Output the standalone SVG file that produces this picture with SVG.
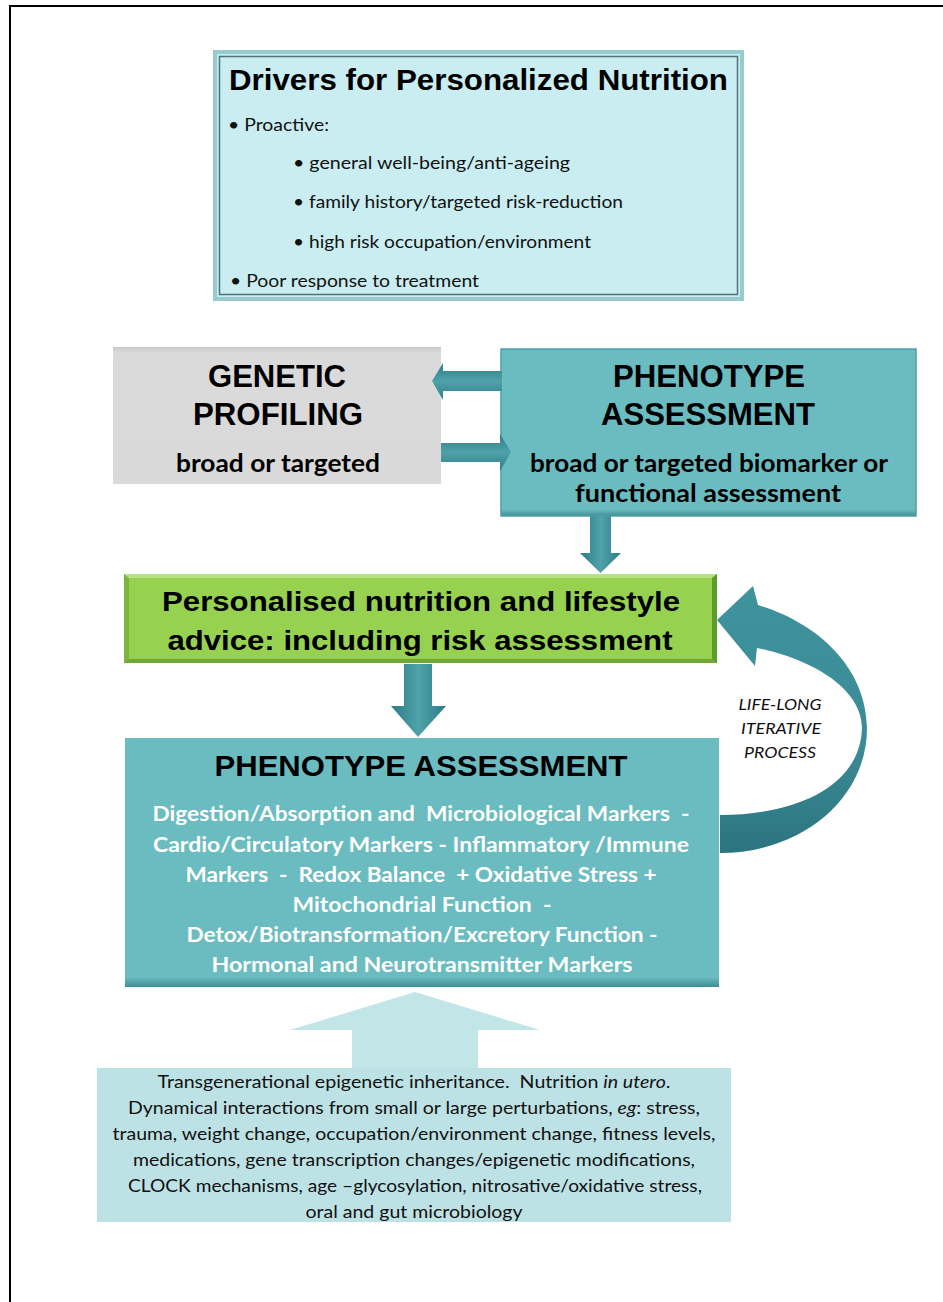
<svg xmlns="http://www.w3.org/2000/svg" width="943" height="1302" viewBox="0 0 943 1302">
  <defs>
    <style>
      .head { font-family: "Liberation Sans", Arial, sans-serif; font-weight: bold; fill: #000; }
      .body { font-family: Lato, "Liberation Sans", sans-serif; fill: #111; }
      .bodyb { font-family: Lato, "Liberation Sans", sans-serif; font-weight: bold; }
      .white { fill: #fff; }
      .mid { text-anchor: middle; }
      .pre { white-space: pre; }
    </style>
    <!-- shading across horizontal arrow shafts -->
    <linearGradient id="tealAcross" x1="0" y1="0" x2="0" y2="1">
      <stop offset="0" stop-color="#2d7c86"/>
      <stop offset="0.5" stop-color="#4fa2aa"/>
      <stop offset="1" stop-color="#2d7c86"/>
    </linearGradient>
    <!-- shading across vertical arrow shafts -->
    <linearGradient id="tealSide" x1="0" y1="0" x2="1" y2="0">
      <stop offset="0" stop-color="#2d7c86"/>
      <stop offset="0.5" stop-color="#4fa2aa"/>
      <stop offset="1" stop-color="#2d7c86"/>
    </linearGradient>
    <linearGradient id="curveShade" x1="0" y1="0" x2="0" y2="1">
      <stop offset="0" stop-color="#3f939c"/>
      <stop offset="0.6" stop-color="#3a8b95"/>
      <stop offset="1" stop-color="#2b7480"/>
    </linearGradient>
    <linearGradient id="phenoShade" x1="0" y1="0" x2="0" y2="1">
      <stop offset="0" stop-color="#6bbcc0"/>
      <stop offset="0.96" stop-color="#6bbcc0"/>
      <stop offset="1" stop-color="#3f8e96"/>
    </linearGradient>
    <linearGradient id="grayShade" x1="0" y1="0" x2="0" y2="1">
      <stop offset="0" stop-color="#c9c9c9"/>
      <stop offset="0.04" stop-color="#dadada"/>
      <stop offset="1" stop-color="#d9d9d9"/>
    </linearGradient>
  </defs>

  <!-- frame -->
  <path d="M10,1302 V6 H943" fill="none" stroke="#000" stroke-width="2"/>

  <!-- drivers -->
  <g id="drivers">
    <rect x="215" y="52" width="527" height="247" fill="#c9edf0" stroke="#98cbd0" stroke-width="4"/>
    <rect x="219.5" y="56.5" width="518" height="238" fill="none" stroke="#4c7579" stroke-width="1.5"/>
    <text class="head" x="229" y="90" font-size="29" textLength="499" lengthAdjust="spacingAndGlyphs">Drivers for Personalized Nutrition</text>
    <text class="body" x="228" y="131" font-size="18" textLength="101" lengthAdjust="spacingAndGlyphs">• Proactive:</text>
    <text class="body" x="293" y="169" font-size="17" textLength="277" lengthAdjust="spacingAndGlyphs">• general well-being/anti-ageing</text>
    <text class="body" x="293" y="208" font-size="17" textLength="330" lengthAdjust="spacingAndGlyphs">• family history/targeted risk-reduction</text>
    <text class="body" x="293" y="248" font-size="17" textLength="298" lengthAdjust="spacingAndGlyphs">• high risk occupation/environment</text>
    <text class="body" x="230" y="287" font-size="17" textLength="249" lengthAdjust="spacingAndGlyphs">• Poor response to treatment</text>
  </g>

  <!-- genetic profiling -->
  <g id="genetic">
    <rect x="113" y="347" width="328" height="137" fill="url(#grayShade)"/>
    <text class="head mid" x="277" y="387" font-size="31" textLength="138" lengthAdjust="spacingAndGlyphs">GENETIC</text>
    <text class="head mid" x="278" y="425" font-size="31" textLength="170" lengthAdjust="spacingAndGlyphs">PROFILING</text>
    <text class="bodyb mid" x="278" y="472" font-size="24" fill="#000" textLength="204" lengthAdjust="spacingAndGlyphs">broad or targeted</text>
  </g>

  <!-- phenotype (top) -->
  <g id="phenotype-top">
    <rect x="501" y="349" width="415" height="167" fill="url(#phenoShade)" stroke="#4f9ea5" stroke-width="1.5"/>
    <text class="head mid" x="709" y="387" font-size="31" textLength="192" lengthAdjust="spacingAndGlyphs">PHENOTYPE</text>
    <text class="head mid" x="708" y="425" font-size="31" textLength="214" lengthAdjust="spacingAndGlyphs">ASSESSMENT</text>
    <text class="bodyb mid" x="709" y="472" font-size="24" fill="#000" textLength="358" lengthAdjust="spacingAndGlyphs">broad or targeted biomarker or</text>
    <text class="bodyb mid" x="708" y="502" font-size="24" fill="#000" textLength="266" lengthAdjust="spacingAndGlyphs">functional assessment</text>
  </g>

  <!-- advice -->
  <g id="advice">
    <rect x="124" y="574" width="593" height="89" fill="#7db540"/>
    <rect x="129" y="578" width="583" height="81" fill="#96d24f"/>
    <path d="M124,574 H717 L712,578 H129 Z" fill="#b8e384"/>
    <path d="M712,578 L717,574 V663 L712,659 Z" fill="#5f9a2c"/>
    <path d="M124,663 H717 L712,659 H129 Z" fill="#6fa835"/>
    <text class="head mid" x="421" y="611" font-size="28" textLength="518" lengthAdjust="spacingAndGlyphs">Personalised nutrition and lifestyle</text>
    <text class="head mid" x="420" y="650" font-size="28" textLength="505" lengthAdjust="spacingAndGlyphs">advice: including risk assessment</text>
  </g>

  <!-- phenotype (detail) -->
  <g id="phenotype-detail">
    <rect x="125" y="738" width="594" height="249" fill="url(#phenoShade)"/>
    <text class="head mid" x="421" y="776" font-size="30" textLength="413" lengthAdjust="spacingAndGlyphs">PHENOTYPE ASSESSMENT</text>
    <g class="bodyb white" font-size="21">
      <text class="mid pre" x="421" y="821" textLength="537" lengthAdjust="spacingAndGlyphs">Digestion/Absorption and  Microbiological Markers  -</text>
      <text class="mid" x="421" y="852" textLength="536" lengthAdjust="spacingAndGlyphs">Cardio/Circulatory Markers - Inflammatory /Immune</text>
      <text class="mid pre" x="421" y="882" textLength="471" lengthAdjust="spacingAndGlyphs">Markers  -  Redox Balance  + Oxidative Stress +</text>
      <text class="mid pre" x="422" y="912" textLength="259" lengthAdjust="spacingAndGlyphs">Mitochondrial Function  -</text>
      <text class="mid" x="422" y="942" textLength="471" lengthAdjust="spacingAndGlyphs">Detox/Biotransformation/Excretory Function -</text>
      <text class="mid" x="422" y="972" textLength="421" lengthAdjust="spacingAndGlyphs">Hormonal and Neurotransmitter Markers</text>
    </g>
  </g>

  <!-- influences -->
  <g id="influences">
    <path d="M415,992 L540,1030 H478 V1069 H352 V1030 H290 Z" fill="#c2e5e8"/>
    <rect x="97" y="1068" width="634" height="154" fill="#bde2e5"/>
    <g class="body" font-size="17.5">
      <text class="mid pre" x="414" y="1088" textLength="513" lengthAdjust="spacingAndGlyphs">Transgenerational epigenetic inheritance.  Nutrition <tspan font-style="italic">in utero</tspan>.</text>
      <text class="mid" x="414" y="1114" textLength="572" lengthAdjust="spacingAndGlyphs">Dynamical interactions from small or large perturbations, <tspan font-style="italic">eg</tspan>: stress,</text>
      <text class="mid" x="414" y="1140" textLength="603" lengthAdjust="spacingAndGlyphs">trauma, weight change, occupation/environment change, fitness levels,</text>
      <text class="mid" x="414" y="1166" textLength="562" lengthAdjust="spacingAndGlyphs">medications, gene transcription changes/epigenetic modifications,</text>
      <text class="mid" x="415" y="1192" textLength="574" lengthAdjust="spacingAndGlyphs">CLOCK mechanisms, age –glycosylation, nitrosative/oxidative stress,</text>
      <text class="mid" x="414" y="1218" textLength="217" lengthAdjust="spacingAndGlyphs">oral and gut microbiology</text>
    </g>
  </g>

  <!-- connectors -->
  <g id="connectors">
    <!-- phenotype -> genetic -->
    <path d="M502,371 V391 H443 V400 L432,381 L443,363 V371 Z" fill="url(#tealAcross)"/>
    <!-- genetic -> phenotype -->
    <path d="M441,443 H500 V434 L511,452 L500,471 V462 H441 Z" fill="url(#tealAcross)"/>
    <!-- phenotype -> advice -->
    <path d="M590,516 H611 V553 H621 L600.5,573 L580,553 H590 Z" fill="url(#tealSide)"/>
    <!-- advice -> phenotype detail -->
    <path d="M404,664 H432 V706 H446 L418,737 L391,706 H404 Z" fill="url(#tealSide)"/>
    <!-- iterative loop back to advice -->
    <path d="M717,620 L753,586 L758,605 C815,622 866,665 867,728 C867,800 800,853 720,853 L720,815 C790,815 860,790 862,728 C862,690 815,660 757,648 L755,666 Z" fill="url(#curveShade)"/>
    <g class="body" font-size="16" font-style="italic">
      <text class="mid" x="780" y="710" textLength="83" lengthAdjust="spacingAndGlyphs">LIFE-LONG</text>
      <text class="mid" x="781" y="734" textLength="80" lengthAdjust="spacingAndGlyphs">ITERATIVE</text>
      <text class="mid" x="780" y="758" textLength="72" lengthAdjust="spacingAndGlyphs">PROCESS</text>
    </g>
  </g>
</svg>
